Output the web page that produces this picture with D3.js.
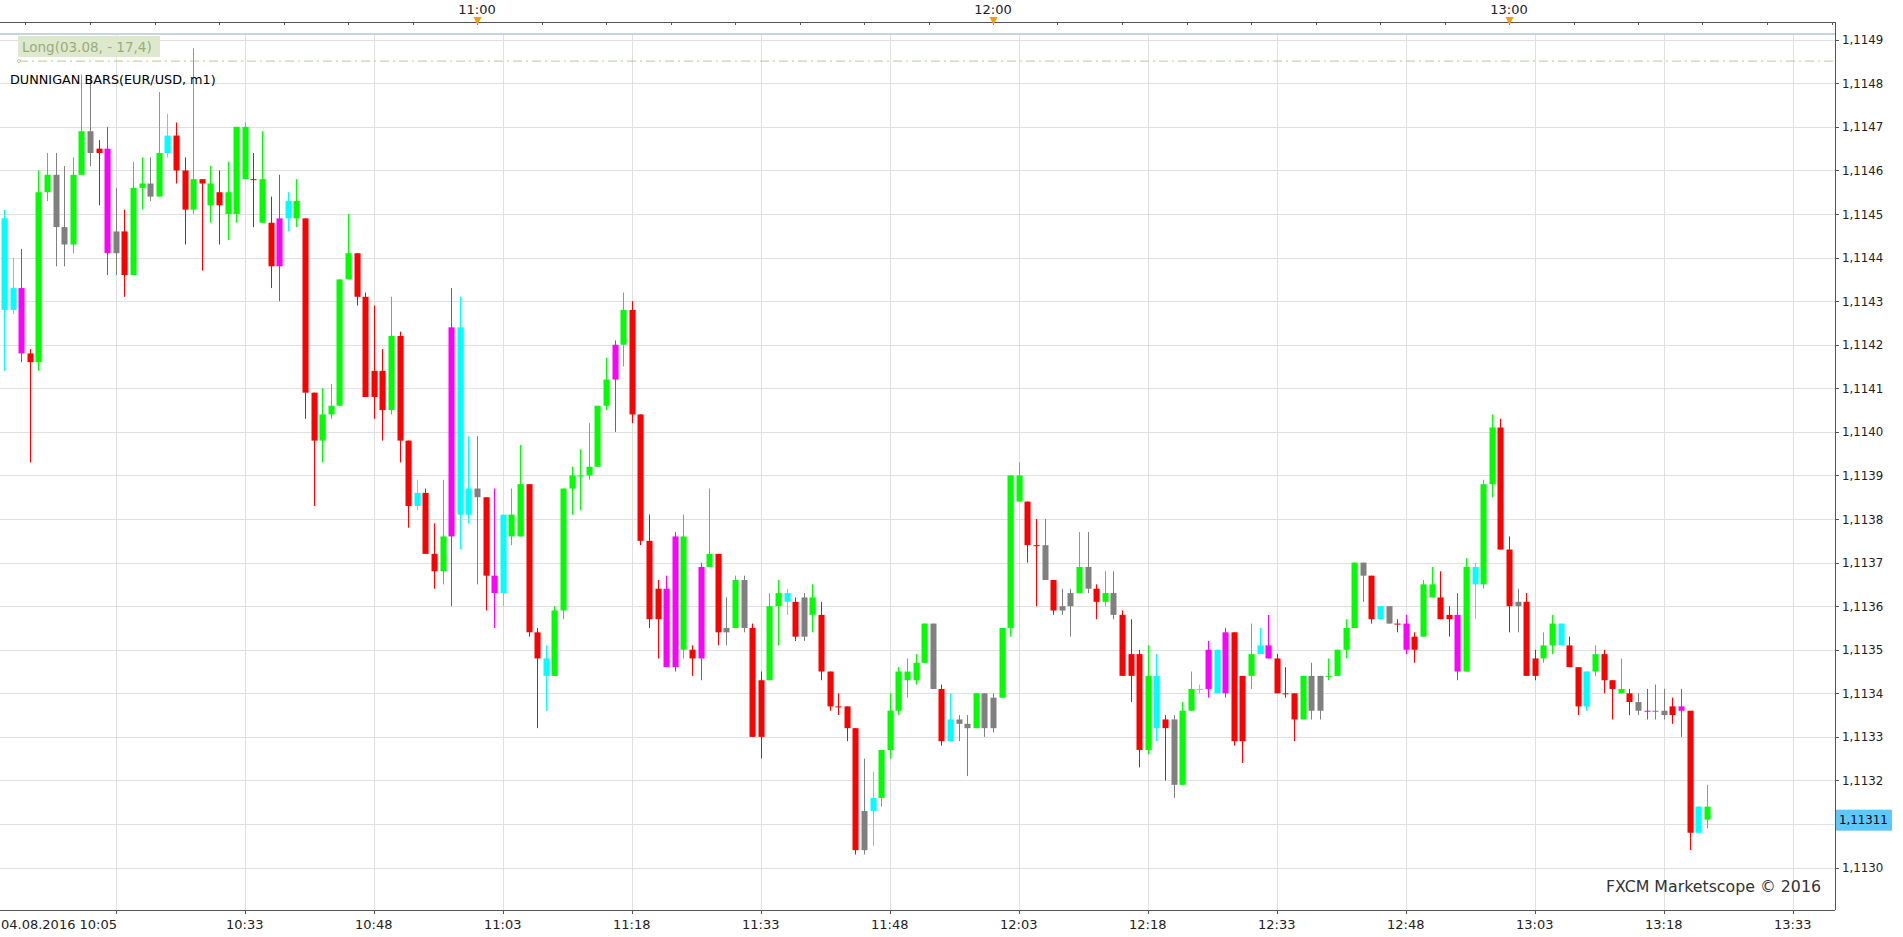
<!DOCTYPE html>
<html><head><meta charset="utf-8">
<script src="https://cdn.jsdelivr.net/npm/d3@7"></script>
<style>html,body{margin:0;padding:0;background:#fff;overflow:hidden}</style>
</head><body><svg id="c" width="1903" height="937"></svg>
<script>
// ---- data (EUR/USD m1, 04.08.2016, first bar 10:05) ----
const startTime = "2016-08-04T10:05:00";
const open = [1.11449,1.11428,1.11433,1.11418,1.11416,1.11455,1.11459,1.11447,1.11443,1.11459,
1.11469,1.11464,1.11465,1.11441,1.11446,1.11436,1.11456,1.11457,1.11454,1.11464,
1.11468,1.11460,1.11451,1.11458,1.11457,1.11452,1.11455,1.11450,1.11470,1.11458,
1.11458,1.11448,1.11438,1.11449,1.11453,1.11449,1.11409,1.11398,1.11404,1.11406,
1.11435,1.11441,1.11431,1.11408,1.11414,1.11405,1.11422,1.11398,1.11383,1.11386,
1.11372,1.11368,1.11376,1.11424,1.11381,1.11387,1.11385,1.11367,1.11363,1.11381,
1.11376,1.11388,1.11354,1.11348,1.11344,1.11359,1.11387,1.11390,1.11390,1.11392,
1.11406,1.11412,1.11420,1.11428,1.11404,1.11375,1.11357,1.11364,1.11346,1.11376,
1.11350,1.11348,1.11369,1.11372,1.11354,1.11355,1.11366,1.11355,1.11330,1.11343,
1.11360,1.11363,1.11361,1.11353,1.11362,1.11358,1.11345,1.11337,1.11337,1.11332,
1.11304,1.11313,1.11316,1.11327,1.11336,1.11345,1.11343,1.11347,1.11356,1.11341,
1.11329,1.11334,1.11333,1.11332,1.11340,1.11332,1.11339,1.11355,1.11390,1.11384,
1.11374,1.11374,1.11366,1.11359,1.11360,1.11363,1.11369,1.11364,1.11361,1.11363,
1.11358,1.11344,1.11349,1.11327,1.11344,1.11332,1.11334,1.11319,1.11336,1.11341,
1.11341,1.11350,1.11340,1.11354,1.11329,1.11344,1.11349,1.11351,1.11348,1.11340,
1.11340,1.11334,1.11344,1.11336,1.11344,1.11344,1.11350,1.11355,1.11370,1.11367,
1.11357,1.11360,1.11356,1.11356,1.11350,1.11353,1.11365,1.11362,1.11357,1.11358,
1.11345,1.11369,1.11365,1.11388,1.11401,1.11373,1.11360,1.11361,1.11344,1.11348,
1.11351,1.11356,1.11351,1.11346,1.11337,1.11345,1.11349,1.11343,1.11341,1.11340,
1.11338,1.11336,1.11336,1.11336,1.11335,1.11337,1.11336,1.11308,1.11314];
const high = [1.11451,1.11440,1.11442,1.11419,1.11460,1.11464,1.11464,1.11461,1.11463,1.11482,
1.11482,1.11467,1.11470,1.11456,1.11451,1.11462,1.11463,1.11463,1.11478,1.11473,
1.11471,1.11463,1.11488,1.11458,1.11461,1.11460,1.11462,1.11470,1.11471,1.11464,
1.11469,1.11454,1.11459,1.11455,1.11458,1.11449,1.11409,1.11410,1.11411,1.11435,
1.11450,1.11441,1.11432,1.11429,1.11419,1.11431,1.11423,1.11398,1.11389,1.11387,
1.11379,1.11389,1.11433,1.11431,1.11399,1.11399,1.11385,1.11387,1.11381,1.11387,
1.11397,1.11388,1.11355,1.11351,1.11360,1.11387,1.11392,1.11396,1.11402,1.11406,
1.11417,1.11421,1.11432,1.11430,1.11404,1.11381,1.11366,1.11367,1.11377,1.11381,
1.11351,1.11370,1.11387,1.11372,1.11362,1.11367,1.11367,1.11356,1.11345,1.11363,
1.11366,1.11364,1.11362,1.11363,1.11365,1.11361,1.11345,1.11340,1.11337,1.11332,
1.11325,1.11322,1.11327,1.11340,1.11346,1.11348,1.11349,1.11356,1.11356,1.11342,
1.11340,1.11335,1.11335,1.11340,1.11340,1.11340,1.11355,1.11390,1.11393,1.11384,
1.11380,1.11380,1.11366,1.11364,1.11364,1.11377,1.11377,1.11365,1.11368,1.11368,
1.11359,1.11357,1.11350,1.11351,1.11349,1.11335,1.11335,1.11338,1.11345,1.11342,
1.11352,1.11350,1.11355,1.11354,1.11344,1.11356,1.11355,1.11358,1.11349,1.11346,
1.11340,1.11344,1.11347,1.11344,1.11348,1.11350,1.11357,1.11370,1.11370,1.11367,
1.11360,1.11360,1.11357,1.11358,1.11354,1.11366,1.11369,1.11368,1.11360,1.11363,
1.11371,1.11370,1.11389,1.11404,1.11403,1.11376,1.11364,1.11363,1.11350,1.11354,
1.11358,1.11356,1.11353,1.11346,1.11345,1.11351,1.11350,1.11343,1.11348,1.11341,
1.11340,1.11341,1.11342,1.11341,1.11339,1.11341,1.11336,1.11314,1.11319];
const low = [1.11414,1.11427,1.11416,1.11393,1.11414,1.11453,1.11438,1.11438,1.11441,1.11459,
1.11461,1.11452,1.11436,1.11436,1.11431,1.11436,1.11451,1.11453,1.11454,1.11463,
1.11457,1.11443,1.11450,1.11437,1.11448,1.11443,1.11444,1.11448,1.11458,1.11447,
1.11448,1.11433,1.11430,1.11446,1.11447,1.11403,1.11383,1.11393,1.11403,1.11406,
1.11435,1.11429,1.11408,1.11403,1.11398,1.11404,1.11393,1.11378,1.11382,1.11372,
1.11364,1.11365,1.11360,1.11373,1.11379,1.11365,1.11359,1.11355,1.11360,1.11374,
1.11376,1.11353,1.11332,1.11336,1.11344,1.11357,1.11381,1.11382,1.11389,1.11392,
1.11405,1.11400,1.11415,1.11402,1.11374,1.11355,1.11348,1.11346,1.11345,1.11348,
1.11344,1.11343,1.11369,1.11351,1.11351,1.11355,1.11354,1.11330,1.11325,1.11343,
1.11351,1.11358,1.11352,1.11352,1.11354,1.11343,1.11336,1.11335,1.11329,1.11303,
1.11303,1.11305,1.11314,1.11325,1.11335,1.11339,1.11342,1.11347,1.11341,1.11328,
1.11329,1.11329,1.11321,1.11332,1.11330,1.11331,1.11339,1.11353,1.11384,1.11370,
1.11360,1.11366,1.11358,1.11358,1.11353,1.11363,1.11363,1.11357,1.11360,1.11357,
1.11344,1.11338,1.11323,1.11326,1.11329,1.11320,1.11316,1.11319,1.11336,1.11340,
1.11339,1.11340,1.11339,1.11328,1.11324,1.11341,1.11349,1.11348,1.11340,1.11339,
1.11329,1.11334,1.11334,1.11334,1.11343,1.11344,1.11348,1.11355,1.11361,1.11356,
1.11357,1.11356,1.11354,1.11349,1.11347,1.11353,1.11362,1.11357,1.11353,1.11343,
1.11345,1.11357,1.11364,1.11385,1.11373,1.11354,1.11354,1.11344,1.11343,1.11347,
1.11349,1.11351,1.11346,1.11335,1.11336,1.11344,1.11340,1.11334,1.11340,1.11335,
1.11335,1.11334,1.11334,1.11334,1.11333,1.11330,1.11304,1.11308,1.11309];
const close = [1.11428,1.11433,1.11418,1.11416,1.11455,1.11459,1.11447,1.11443,1.11459,1.11469,
1.11464,1.11465,1.11441,1.11446,1.11436,1.11456,1.11457,1.11454,1.11464,1.11468,
1.11460,1.11451,1.11458,1.11457,1.11452,1.11455,1.11450,1.11470,1.11458,1.11458,
1.11448,1.11438,1.11449,1.11453,1.11449,1.11409,1.11398,1.11404,1.11406,1.11435,
1.11441,1.11431,1.11408,1.11414,1.11405,1.11422,1.11398,1.11383,1.11386,1.11372,
1.11368,1.11376,1.11424,1.11381,1.11387,1.11385,1.11367,1.11363,1.11381,1.11376,
1.11388,1.11354,1.11348,1.11344,1.11359,1.11387,1.11390,1.11390,1.11392,1.11406,
1.11412,1.11420,1.11428,1.11404,1.11375,1.11357,1.11364,1.11346,1.11376,1.11350,
1.11348,1.11369,1.11372,1.11354,1.11355,1.11366,1.11355,1.11330,1.11343,1.11360,
1.11363,1.11361,1.11353,1.11362,1.11358,1.11345,1.11337,1.11337,1.11332,1.11304,
1.11313,1.11316,1.11327,1.11336,1.11345,1.11343,1.11347,1.11356,1.11341,1.11329,
1.11334,1.11333,1.11332,1.11340,1.11332,1.11339,1.11355,1.11390,1.11384,1.11374,
1.11374,1.11366,1.11359,1.11360,1.11363,1.11369,1.11364,1.11361,1.11363,1.11358,
1.11344,1.11349,1.11327,1.11344,1.11332,1.11334,1.11319,1.11336,1.11341,1.11341,
1.11350,1.11340,1.11354,1.11329,1.11344,1.11349,1.11351,1.11348,1.11340,1.11340,
1.11334,1.11344,1.11336,1.11344,1.11344,1.11350,1.11355,1.11370,1.11367,1.11357,
1.11360,1.11356,1.11356,1.11350,1.11353,1.11365,1.11362,1.11357,1.11358,1.11345,
1.11369,1.11365,1.11388,1.11401,1.11373,1.11360,1.11361,1.11344,1.11348,1.11351,
1.11356,1.11351,1.11346,1.11337,1.11345,1.11349,1.11343,1.11341,1.11340,1.11338,
1.11336,1.11336,1.11336,1.11335,1.11337,1.11336,1.11308,1.11314,1.11311];
// Dunnigan bar type: G up, R down, N inside (gray), C / M outside
const barType = ["C","C","M","R","G","G","N","N","G","G",
"N","R","M","N","R","G","G","N","G","C",
"R","R","G","R","G","R","G","G","G","R",
"G","R","M","C","G","R","R","G","G","G",
"G","R","R","R","R","G","R","R","C","R",
"R","G","M","C","C","N","R","M","C","G",
"G","R","R","C","G","G","G","G","G","G",
"G","M","G","R","R","R","R","M","M","G",
"R","M","G","R","N","G","N","R","R","G",
"G","C","R","N","G","R","R","R","R","R",
"N","C","G","G","G","G","G","G","N","R",
"C","N","N","G","N","N","G","G","G","R",
"R","N","R","N","N","G","N","R","G","N",
"R","R","R","G","C","R","N","G","G","C",
"M","C","M","R","R","G","C","M","R","R",
"R","G","N","N","G","G","G","G","N","R",
"C","N","R","M","R","G","G","R","R","M",
"G","C","G","G","R","R","N","R","R","G",
"G","C","R","R","C","G","R","R","G","R",
"N","M","N","N","R","M","R","C","G"];
const priceTicks = [1.1130,1.1131,1.1132,1.1133,1.1134,1.1135,1.1136,1.1137,1.1138,1.1139,1.1140,1.1141,1.1142,1.1143,1.1144,1.1145,1.1146,1.1147,1.1148,1.1149];
const bottomTicks = ["10:18","10:33","10:48","11:03","11:18","11:33","11:48","12:03","12:18","12:33","12:48","13:03","13:18","13:33"];
const topLabels = ["11:00","12:00","13:00"];
const firstLabel = "04.08.2016 10:05";
const lastPriceLabel = "1,11311";
const signalLevel = 1.114851;
const signalText = "Long(03.08, - 17,4)";
const studyTitle = "DUNNIGAN BARS(EUR/USD, m1)";
const copyright = "FXCM Marketscope \u00A9 2016";

const colorOf = {G:"#00ff00", R:"#ff0000", N:"#808080", C:"#00ffff", M:"#ff00ff"};

const parse = d3.timeParse("%Y-%m-%dT%H:%M:%S");
const t0 = parse(startTime);
const dates = open.map((_, i) => d3.timeMinute.offset(t0, i));
const day = "2016-08-04T";
const fmt = d3.timeFormat("%H:%M");
const fmtP = v => d3.format(".4f")(v).replace(".", ",");
const FONT = "DejaVu Sans, Verdana, sans-serif";

// ---- layout ----
const W = 1903, H = 937;
const plotL = 0, plotR = 1835, plotT = 34, plotB = 910;
const x = d3.scaleTime()
  .domain([t0, d3.timeMinute.offset(t0, 213)])
  .range([4, 4 + 213 * 8.6]);
const y = d3.scaleLinear().domain([1.1130, 1.1148]).range([867.6, 83.3]);

const svg = d3.select("#c");
svg.append("rect").attr("width", W).attr("height", H).attr("fill", "#fff");

// grid
const grid = svg.append("g");
grid.selectAll("line.h").data(priceTicks).join("line")
  .attr("x1", plotL).attr("x2", plotR)
  .attr("y1", d => Math.round(y(d)) + 0.5).attr("y2", d => Math.round(y(d)) + 0.5)
  .attr("stroke", "#e0e0e0").attr("stroke-width", 1);
const vDates = bottomTicks.map(s => parse(day + s + ":00"));
grid.selectAll("line.v").data(vDates).join("line")
  .attr("x1", d => Math.round(x(d)) + 0.5).attr("x2", d => Math.round(x(d)) + 0.5)
  .attr("y1", plotT).attr("y2", plotB)
  .attr("stroke", "#e0e0e0").attr("stroke-width", 1);

// signal line
svg.append("line").attr("x1", 19).attr("x2", plotR)
  .attr("y1", y(signalLevel)).attr("y2", y(signalLevel))
  .attr("stroke", "#b3cc96").attr("stroke-width", 1)
  .attr("stroke-dasharray", "9,4,2,4");
svg.append("circle").attr("cx", 19).attr("cy", y(signalLevel)).attr("r", 1.5)
  .attr("fill", "#fff").attr("stroke", "#b3cc96");
svg.append("rect").attr("x", 18).attr("y", 36).attr("width", 142).attr("height", 21)
  .attr("fill", "#dde8cc");
svg.append("text").attr("x", 22).attr("y", 51.5).text(signalText)
  .attr("font-family", FONT).attr("font-size", 13.5)
  .attr("fill", "#98ad7e");

// candles
const bw = 6;
const cg = svg.append("g");
const idx = d3.range(open.length);
cg.selectAll("line.w").data(idx).join("line")
  .attr("x1", i => Math.round(x(dates[i])) + 0.5).attr("x2", i => Math.round(x(dates[i])) + 0.5)
  .attr("y1", i => y(high[i])).attr("y2", i => y(low[i]))
  .attr("stroke", i => colorOf[barType[i]]).attr("stroke-width", 1);
cg.selectAll("rect.b").data(idx).join("rect")
  .attr("x", i => Math.round(x(dates[i])) - bw / 2 + 0.5)
  .attr("width", bw)
  .attr("y", i => y(Math.max(open[i], close[i])))
  .attr("height", i => Math.max(1, Math.abs(y(open[i]) - y(close[i]))))
  .attr("fill", i => colorOf[barType[i]]);

// title
svg.append("text").attr("x", 10).attr("y", 84).text(studyTitle)
  .attr("font-family", FONT).attr("font-size", 12.8)
  .attr("fill", "#000");

// frame
svg.append("line").attr("x1", 0).attr("x2", plotR).attr("y1", 22.5).attr("y2", 22.5)
  .attr("stroke", "#555").attr("stroke-width", 1);
svg.append("line").attr("x1", 0).attr("x2", plotR).attr("y1", 34).attr("y2", 34)
  .attr("stroke", "#c9d3df").attr("stroke-width", 2);
svg.append("line").attr("x1", plotR + 0.5).attr("x2", plotR + 0.5).attr("y1", 22).attr("y2", plotB)
  .attr("stroke", "#555").attr("stroke-width", 1);
svg.append("line").attr("x1", 0).attr("x2", plotR).attr("y1", plotB + 0.5).attr("y2", plotB + 0.5)
  .attr("stroke", "#555").attr("stroke-width", 1);

// top axis minor ticks (every 7.5 min)
const topTickDates = d3.range(-7, 30).map(k => d3.timeSecond.offset(parse(day + "11:00:00"), k * 450))
  .filter(d => x(d) > 0 && x(d) < plotR);
svg.selectAll("line.tt").data(topTickDates).join("line")
  .attr("x1", d => Math.round(x(d)) + 0.5).attr("x2", d => Math.round(x(d)) + 0.5)
  .attr("y1", 22).attr("y2", 25).attr("stroke", "#555");
const topDates = topLabels.map(s => parse(day + s + ":00"));
svg.selectAll("text.tl").data(topDates).join("text")
  .attr("x", d => x(d)).attr("y", 14).attr("text-anchor", "middle")
  .attr("font-family", FONT).attr("font-size", 13)
  .attr("fill", "#222").text(d => fmt(d));
svg.selectAll("path.tri").data(topDates).join("path")
  .attr("d", d => { const cx = Math.round(x(d)) + 0.5; return `M${cx-4},17L${cx+4},17L${cx},25Z`; })
  .attr("fill", "#f39c12");

// right axis
const lastY = y(close[close.length - 1]);
svg.selectAll("line.rt").data(priceTicks).join("line")
  .attr("x1", plotR).attr("x2", plotR + 4)
  .attr("y1", d => Math.round(y(d)) + 0.5).attr("y2", d => Math.round(y(d)) + 0.5)
  .attr("stroke", "#555");
svg.selectAll("text.rl").data(priceTicks.filter(d => Math.abs(y(d) - lastY) > 14)).join("text")
  .attr("x", plotR + 7).attr("y", d => y(d) + 4.5)
  .attr("font-family", FONT).attr("font-size", 11.8)
  .attr("fill", "#222").text(d => fmtP(d));
svg.append("rect").attr("x", plotR + 1).attr("y", lastY - 10).attr("width", 56).attr("height", 21)
  .attr("fill", "#5ec8f8");
svg.append("text").attr("x", plotR + 4).attr("y", lastY + 4.5)
  .attr("font-family", FONT).attr("font-size", 11.8)
  .attr("fill", "#000").text(lastPriceLabel);

// bottom axis
svg.selectAll("line.bt").data(vDates).join("line")
  .attr("x1", d => Math.round(x(d)) + 0.5).attr("x2", d => Math.round(x(d)) + 0.5)
  .attr("y1", plotB).attr("y2", plotB + 4).attr("stroke", "#555");
svg.selectAll("text.bl").data(vDates.slice(1)).join("text")
  .attr("x", d => x(d)).attr("y", 929).attr("text-anchor", "middle")
  .attr("font-family", FONT).attr("font-size", 13)
  .attr("fill", "#222").text(d => fmt(d));
svg.append("text").attr("x", 1).attr("y", 929)
  .attr("font-family", FONT).attr("font-size", 13)
  .attr("fill", "#222").text(firstLabel);

svg.append("text").attr("x", 1821).attr("y", 892).attr("text-anchor", "end")
  .attr("font-family", FONT).attr("font-size", 15.8)
  .attr("fill", "#333").text(copyright);
</script></body></html>
